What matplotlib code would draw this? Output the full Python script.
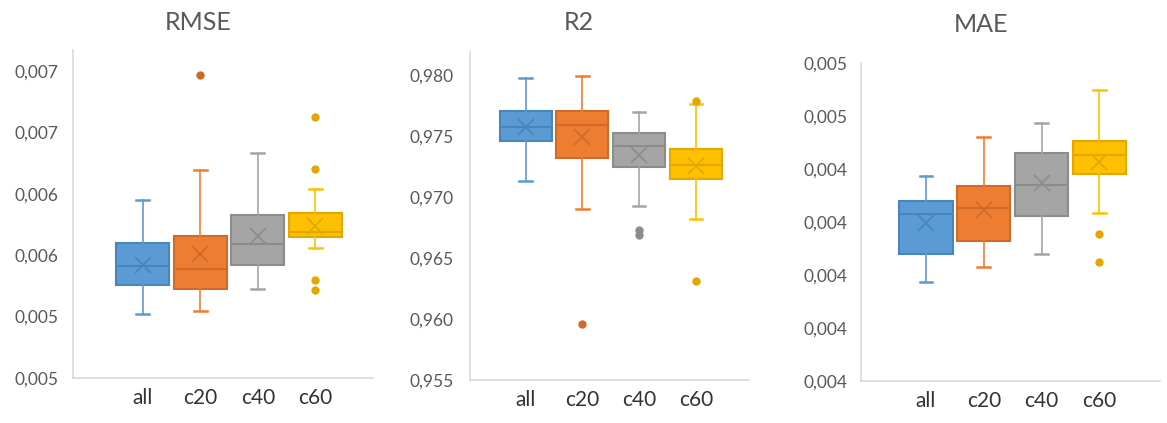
import matplotlib
matplotlib.use("Agg")
from matplotlib import pyplot as plt
from matplotlib.ticker import FuncFormatter

plt.rcParams['font.family'] = ['Lato', 'DejaVu Sans']

groups = ["all", "c20", "c40", "c60"]
fills = ["#5B9BD5", "#ED7D31", "#A5A5A5", "#FFC000"]
edges = ["#4A84BA", "#CF6A29", "#8C8C8C", "#E0A800"]

# RMSE: whislo, q1, med, q3, whishi, mean, outliers
rmse_whislo = [0.005024, 0.005043, 0.005225, 0.005559]
rmse_q1 = [0.005255, 0.005225, 0.005423, 0.005648]
rmse_med = [0.005414, 0.005390, 0.005594, 0.005686]
rmse_q3 = [0.005599, 0.005659, 0.005830, 0.005844]
rmse_whishi = [0.005947, 0.006196, 0.006330, 0.006041]
rmse_mean = [0.005423, 0.005510, 0.005659, 0.005740]
rmse_out = [[], [0.006965], [], [0.006628, 0.006202, 0.005300, 0.005219]]

r2_whislo = [0.97131, 0.96905, 0.96924, 0.96815]
r2_q1 = [0.97462, 0.97320, 0.97249, 0.97148]
r2_med = [0.97571, 0.97593, 0.97416, 0.97262]
r2_q3 = [0.97700, 0.97700, 0.97525, 0.97393]
r2_whishi = [0.97973, 0.97987, 0.97692, 0.97762]
r2_mean = [0.97570, 0.97487, 0.97344, 0.97255]
r2_out = [[], [0.95959], [0.96733, 0.96684], [0.97784, 0.96307]]

mae_whislo = [0.003973, 0.004030, 0.004080, 0.004236]
mae_q1 = [0.004080, 0.004128, 0.004224, 0.004380]
mae_med = [0.004230, 0.004252, 0.004342, 0.004455]
mae_q3 = [0.004280, 0.004336, 0.004461, 0.004508]
mae_whishi = [0.004373, 0.004521, 0.004574, 0.004700]
mae_mean = [0.004196, 0.004245, 0.004349, 0.004427]
mae_out = [[], [], [], [0.004156, 0.004049]]

rmse_ticks = [0.0045, 0.005, 0.0055, 0.006, 0.0065, 0.007]
r2_ticks = [0.955, 0.960, 0.965, 0.970, 0.975, 0.980]
mae_ticks = [0.0036, 0.0038, 0.0040, 0.0042, 0.0044, 0.0046, 0.0048]

panels = [
    dict(title="RMSE", stats=(rmse_whislo, rmse_q1, rmse_med, rmse_q3, rmse_whishi, rmse_mean, rmse_out),
         ticks=rmse_ticks, ylim=(0.0045, 0.00717), rect=[0.0623, 0.1064, 0.2571, 0.7754],
         xlim=(-0.217, 4.998), tpos=(198, 23), ypad=10.5),
    dict(title="R2", stats=(r2_whislo, r2_q1, r2_med, r2_q3, r2_whishi, r2_mean, r2_out),
         ticks=r2_ticks, ylim=(0.955, 0.9819), rect=[0.4027, 0.1017, 0.2393, 0.7761],
         xlim=(0.019, 4.94), tpos=(579, 23), ypad=12),
    dict(title="MAE", stats=(mae_whislo, mae_q1, mae_med, mae_q3, mae_whishi, mae_mean, mae_out),
         ticks=mae_ticks, ylim=(0.0036, 0.0048), rect=[0.7378, 0.0993, 0.2562, 0.7511],
         xlim=(-0.125, 5.05), tpos=(981, 25), ypad=10),
]

fig = plt.figure(figsize=(11.67, 4.23), dpi=100)

for p in panels:
    ax = fig.add_axes(p["rect"])
    wlo, q1, med, q3, whi, mean, out = p["stats"]
    for i in range(len(groups)):
        st = [dict(whislo=wlo[i], q1=q1[i], med=med[i], q3=q3[i], whishi=whi[i],
                   mean=mean[i], fliers=out[i], label=groups[i])]
        ax.bxp(st, positions=[i + 1], widths=0.92, patch_artist=True, showmeans=True,
               boxprops=dict(facecolor=fills[i], edgecolor=edges[i], linewidth=1.5),
               medianprops=dict(color=edges[i], linewidth=1.5),
               whiskerprops=dict(color=fills[i], linewidth=1.2),
               capprops=dict(color=fills[i], linewidth=1.8),
               capwidths=0.22,
               meanprops=dict(marker="x", markersize=12, markeredgecolor=edges[i],
                              markeredgewidth=1.2),
               flierprops=dict(marker="o", markersize=5, markerfacecolor=edges[i],
                               markeredgecolor=edges[i]))
    ax.set_xlim(p["xlim"])
    ax.set_ylim(p["ylim"])
    ax.set_yticks(p["ticks"])
    ax.yaxis.set_major_formatter(FuncFormatter(
        lambda v, pos: ("%.3f" % (v + 1e-9)).replace(".", ",")))
    ax.set_xticks(range(1, len(groups) + 1))
    ax.set_xticklabels(groups)
    ax.tick_params(axis="y", length=0, pad=p["ypad"], labelsize=12.5, labelcolor="#595959")
    ax.tick_params(axis="x", length=0, pad=7, labelsize=15, labelcolor="#333333")
    for s in ["top", "right"]:
        ax.spines[s].set_visible(False)
    for s in ["left", "bottom"]:
        ax.spines[s].set_color("#D9D9D9")
        ax.spines[s].set_linewidth(1.2)
    fig.text(p["tpos"][0] / 1167, 1 - p["tpos"][1] / 423, p["title"], ha="center", va="center",
             fontsize=18, color="#595959")

fig.savefig("out.png", dpi=100)
